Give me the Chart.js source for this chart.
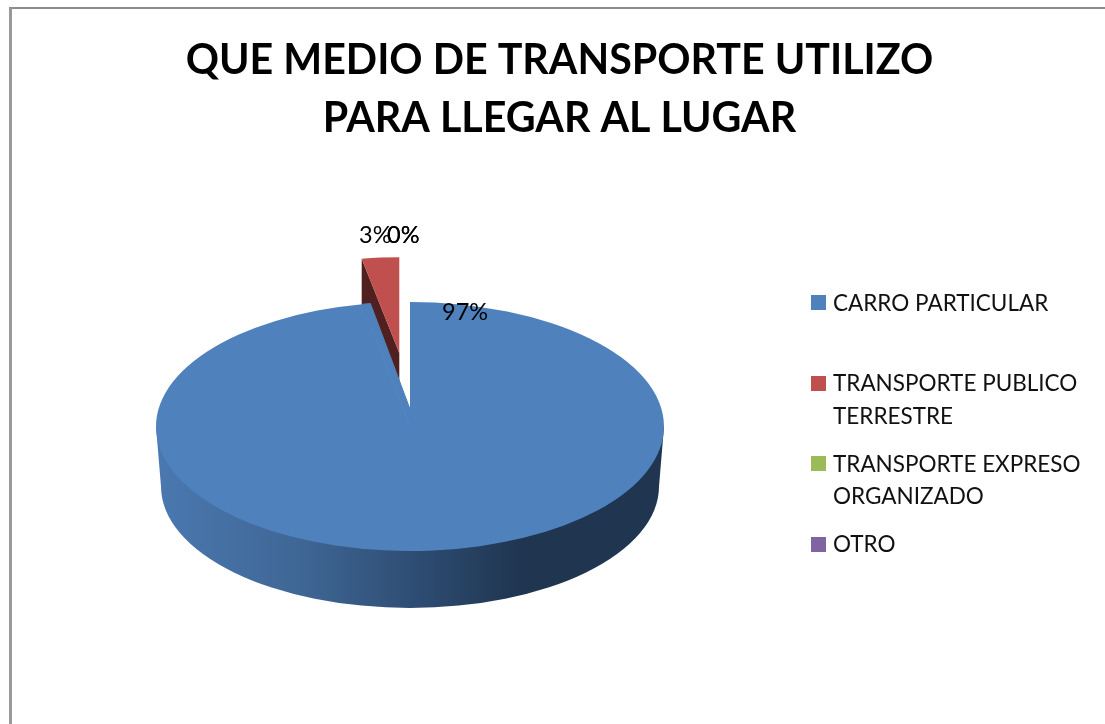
<!DOCTYPE html>
<html>
<head>
<meta charset="utf-8">
<style>
  html, body { margin: 0; padding: 0; background: #fff; overflow: hidden; width: 1105px; height: 724px; }
  #chart { position: absolute; left: 0; top: 0; }
  #frame { position: absolute; left: 9px; top: 7px; right: 0; bottom: 0; border-left: 3px solid #999; border-top: 2px solid #8c8c8c; }
</style>
</head>
<body>
<canvas id="chart" width="1119" height="724"></canvas>
<div id="frame"></div>
<script src="https://cdn.jsdelivr.net/npm/chart.js@4/dist/chart.umd.min.js"></script>
<script>
// data \/
const titleLines = ['QUE MEDIO DE TRANSPORTE UTILIZO', 'PARA LLEGAR AL LUGAR'];
const categories = ['CARRO PARTICULAR', 'TRANSPORTE PUBLICO TERRESTRE', 'TRANSPORTE EXPRESO ORGANIZADO', 'OTRO'];
const values = [97, 3, 0, 0];
const colors = ['#4f81bd', '#c0504d', '#9bbb59', '#8064a2'];
// data /\

// look of the fake 3d \/
const pieShiftX = -149.5;   // title is centered on the canvas, the pie sits left of that
const squash = 0.49;        // circle -> ellipse
const wallDepth = 60;       // how far the lower rim sits under the top one
const wallInset = 5;        // lower rim is a bit narrower
const apexLift = 17.5;      // perspective: the tip of the pie sits above the ellipse middle
const notchInset = 8;       // the notch is narrower at the back
const redShift = { x: -10.7, y: -73.5 };
const redScale = { x: 0.79, y: 0.77 };
const redDepth = { apex: 29, rim: 47 };
// look of the fake 3d /\

// text placement \/
const sliceLabels = [
    { x: 442, y: 320 },
    { x: 359, y: 243 },
    { x: 387, y: 243 },
    { x: 387, y: 243 }
];
const legendRows = [
    { box: 295, lines: [['CARRO PARTICULAR', 311]] },
    { box: 376, lines: [['TRANSPORTE PUBLICO', 391], ['TERRESTRE', 424]] },
    { box: 456, lines: [['TRANSPORTE EXPRESO', 472], ['ORGANIZADO', 504]] },
    { box: 537, lines: [['OTRO', 552]] }
];
const labelFont = '23.5px Lato';
const legendFont = '22.5px Lato';
// text placement /\

// draws the pie slices with a side wall \/
const pie3d = {
    id: 'pie3d',
    beforeDatasetsDraw(chart) {
        const ctx = chart.ctx;
        const blue = chart.getDatasetMeta(0).data[0];
        const red = chart.getDatasetMeta(0).data[1];
        const cx = blue.x + pieShiftX, cy = blue.y, r = blue.outerRadius, ry = r * squash;

        // red slice, its dark wall first
        const apexX = cx + redShift.x, apexY = cy + redShift.y;
        const redAngle = (red.endAngle - red.startAngle);
        const rimX = apexX - Math.sin(redAngle) * r * redScale.x;
        const rimY = apexY - Math.cos(redAngle) * ry * redScale.y;
        ctx.fillStyle = '#4f201f';
        ctx.beginPath();
        ctx.moveTo(rimX, rimY);
        ctx.lineTo(apexX, apexY);
        ctx.lineTo(apexX, apexY + redDepth.apex);
        ctx.lineTo(rimX, rimY + redDepth.rim);
        ctx.closePath();
        ctx.fill();

        ctx.save();
        ctx.translate(apexX, apexY);
        ctx.scale(redScale.x, squash * redScale.y);
        ctx.translate(-red.x, -red.y);
        red.draw(ctx);
        ctx.restore();

        // blue wall
        const wall = ctx.createLinearGradient(cx - r, 0, cx + r, 0);
        wall.addColorStop(0, '#4a78b0');
        wall.addColorStop(0.28, '#3f6795');
        wall.addColorStop(0.5, '#2f4e75');
        wall.addColorStop(0.72, '#1f3550');
        wall.addColorStop(1, '#1f3550');
        ctx.fillStyle = wall;
        ctx.beginPath();
        ctx.moveTo(cx - r, cy);
        ctx.lineTo(cx - r + wallInset, cy + wallDepth);
        ctx.ellipse(cx, cy + wallDepth, r - wallInset, ry - 3, 0, Math.PI, 0, true);
        ctx.lineTo(cx + r, cy);
        ctx.closePath();
        ctx.fill();

        // blue top
        ctx.save();
        ctx.translate(cx, cy);
        ctx.scale(1, squash);
        ctx.translate(-blue.x, -blue.y);
        blue.draw(ctx);
        ctx.restore();

        // moves the tip of the notch up and makes it narrower
        const endX = cx - Math.sin(redAngle) * r;
        const endY = cy - Math.cos(redAngle) * ry;
        const innerX = endX + notchInset;
        const innerY = cy - ry * Math.sqrt(1 - Math.pow((innerX - cx) / r, 2));
        ctx.fillStyle = colors[0];
        ctx.strokeStyle = colors[0];
        ctx.lineWidth = 1;
        ctx.beginPath();
        ctx.moveTo(cx, cy);
        ctx.lineTo(cx, cy - apexLift);
        ctx.lineTo(innerX, innerY);
        ctx.lineTo(endX, endY);
        ctx.closePath();
        ctx.fill();
        ctx.stroke();
        return false;
    },
    afterDraw(chart) {
        const ctx = chart.ctx;
        const total = values.reduce((a, b) => a + b, 0);
        ctx.save();
        ctx.textAlign = 'left';
        ctx.textBaseline = 'alphabetic';

        // percent labels, the two 0% sit on top of each other
        ctx.font = labelFont;
        ctx.fillStyle = '#000';
        values.forEach((v, i) => {
            ctx.fillText(Math.round(v / total * 100) + '%', sliceLabels[i].x, sliceLabels[i].y);
        });

        // legend
        ctx.font = legendFont;
        legendRows.forEach((row, i) => {
            ctx.fillStyle = colors[i];
            ctx.fillRect(811, row.box, 15, 15);
            ctx.fillStyle = '#111';
            row.lines.forEach(line => ctx.fillText(line[0], 833, line[1]));
        });
        ctx.restore();
    }
};
// draws the pie slices with a side wall /\

// chart \/
const chartCanvas = document.getElementById('chart');

new Chart(chartCanvas, {
    type: 'pie',
    data: {
        labels: categories,
        datasets: [{
            data: values,
            backgroundColor: colors,
            borderWidth: 0
        }]
    },
    options: {
        responsive: false,
        animation: false,
        events: [],
        radius: 254,
        layout: { padding: { bottom: 21 } },
        plugins: {
            legend: { display: false },
            tooltip: { enabled: false },
            title: {
                display: true,
                text: titleLines,
                color: '#000',
                font: { family: 'Lato', size: 41.2, weight: 'bold', lineHeight: 1.41 },
                padding: { top: 32, bottom: 1.8 }
            }
        }
    },
    plugins: [pie3d]
});
// chart /\
</script>
</body>
</html>
